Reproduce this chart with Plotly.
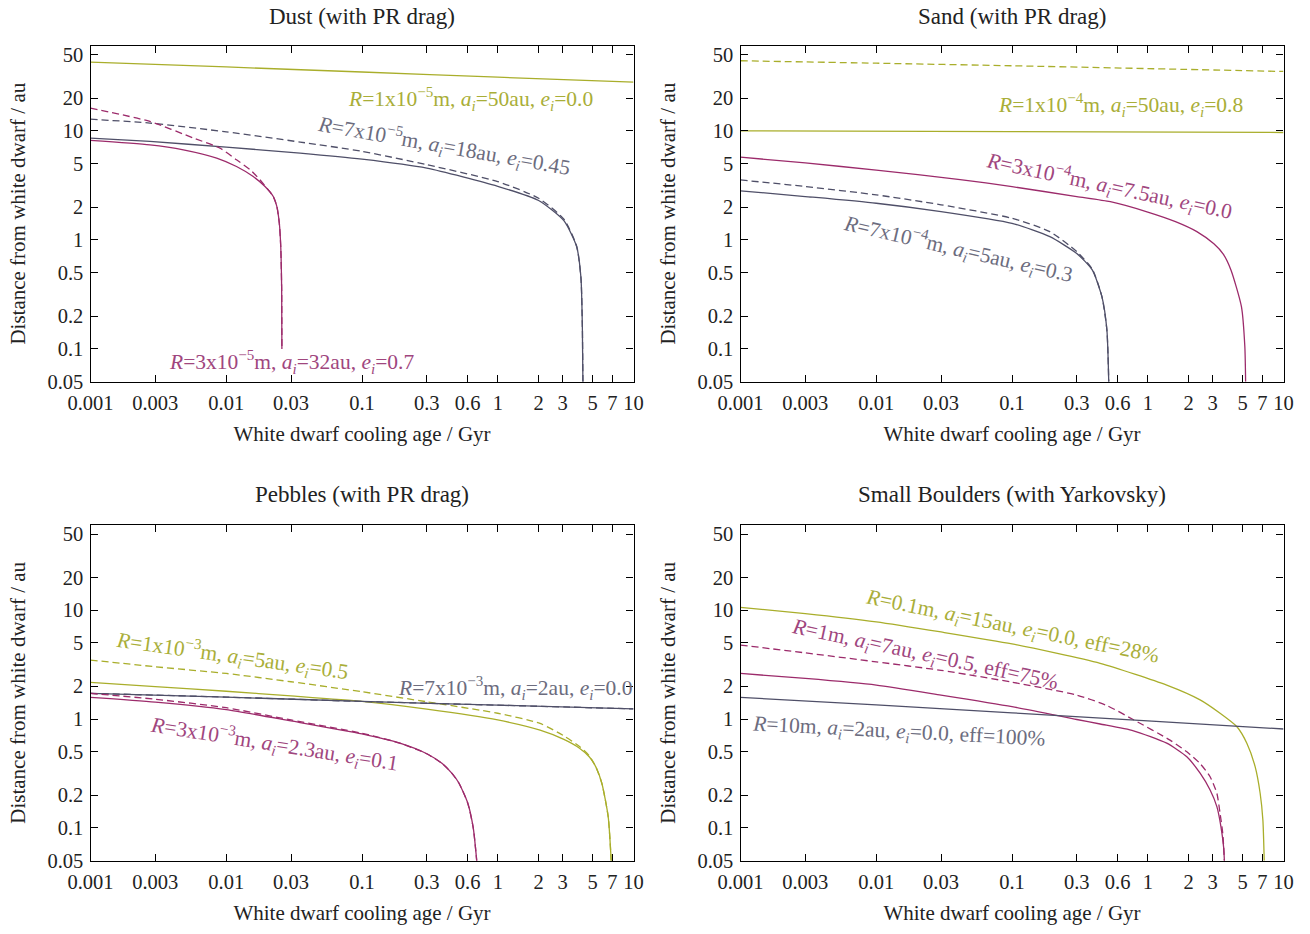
import math
import plotly.graph_objects as go

W, H = 1310, 934
FONT = "Liberation Serif"

# colours
YEL = "#a9ae2b"
MAG = "#9c2b6b"
GRY = "#4f4f68"
YEL_T = "#a9ae38"
MAG_T = "#a0467e"
GRY_T = "#6c6c7e"

# ---------------- data (cooling age in Gyr, distance in au) ----------------
# Panel 1 : Dust (with PR drag)
p1_yel_solid_t = [0.001, 0.01, 0.1, 1, 10]
p1_yel_solid_a = [42.8, 38.6, 34.7, 31.1, 28.0]

p1_gry_solid_t = [0.001, 0.00274, 0.01, 0.035, 0.1, 0.3, 1, 2, 3.07, 3.81, 4.1, 4.2, 4.24]
p1_gry_solid_a = [8.6, 8.0, 7.1, 6.25, 5.5, 4.55, 3.1, 2.3, 1.5, 0.87, 0.45, 0.16, 0.05]
p1_gry_dash_t = [0.001, 0.00274, 0.01, 0.035, 0.1, 0.3, 1, 2, 3.07, 3.81, 4.1, 4.2, 4.24]
p1_gry_dash_a = [12.8, 11.8, 9.8, 7.9, 6.5, 4.9, 3.43, 2.41, 1.55, 0.88, 0.45, 0.16, 0.05]

p1_mag_solid_t = [0.001, 0.00274, 0.00483, 0.0085, 0.0119, 0.0158, 0.0193, 0.0222, 0.0236, 0.0246, 0.0252, 0.0256, 0.0257]
p1_mag_solid_a = [8.2, 7.46, 6.71, 5.63, 4.71, 3.81, 3.09, 2.5, 2.02, 1.42, 0.87, 0.35, 0.1]
p1_mag_dash_t = [0.001, 0.00274, 0.00573, 0.009, 0.0119, 0.015, 0.0177, 0.0204, 0.0222, 0.0236, 0.0246, 0.0252, 0.0256, 0.0257]
p1_mag_dash_a = [16.2, 12.2, 8.6, 6.95, 5.43, 4.4, 3.56, 2.88, 2.5, 2.02, 1.42, 0.87, 0.35, 0.1]

# Panel 2 : Sand (with PR drag)
p2_yel_dash_t = [0.001, 0.01, 0.1, 1, 10]
p2_yel_dash_a = [44.0, 41.8, 39.6, 37.3, 35.1]
p2_yel_solid_t = [0.001, 0.1, 10]
p2_yel_solid_a = [10.0, 9.85, 9.67]

p2_mag_solid_t = [0.001, 0.003, 0.01, 0.0415, 0.1, 0.3, 0.53, 1, 1.6, 2.3, 3.07, 3.6, 4.1, 4.9, 5.19, 5.26]
p2_mag_solid_a = [5.74, 5.08, 4.37, 3.58, 3.08, 2.5, 2.24, 1.8, 1.47, 1.19, 0.92, 0.74, 0.53, 0.244, 0.105, 0.05]

p2_gry_solid_t = [0.001, 0.003, 0.01, 0.03, 0.1, 0.19, 0.3, 0.39, 0.46, 0.5, 0.516]
p2_gry_solid_a = [2.82, 2.5, 2.17, 1.82, 1.42, 1.07, 0.75, 0.53, 0.30, 0.149, 0.05]
p2_gry_dash_t = [0.001, 0.003, 0.01, 0.03, 0.1, 0.19, 0.3, 0.39, 0.46, 0.5, 0.516]
p2_gry_dash_a = [3.55, 3.09, 2.59, 2.1, 1.58, 1.19, 0.78, 0.54, 0.30, 0.149, 0.05]

# Panel 3 : Pebbles (with PR drag)
p3_yel_solid_t = [0.001, 0.003, 0.01, 0.03, 0.1, 0.3, 1, 2.05, 3.07, 4.0, 4.72, 5.3, 5.85, 6.51, 6.85]
p3_yel_solid_a = [2.17, 1.98, 1.8, 1.63, 1.45, 1.23, 0.98, 0.79, 0.65, 0.54, 0.45, 0.36, 0.256, 0.127, 0.05]
p3_yel_dash_t = [0.001, 0.003, 0.01, 0.03, 0.1, 0.3, 1, 2.05, 3.07, 4.0, 4.72, 5.3, 5.85, 6.51, 6.85]
p3_yel_dash_a = [3.48, 3.02, 2.62, 2.2, 1.78, 1.44, 1.13, 0.91, 0.7, 0.56, 0.46, 0.36, 0.256, 0.127, 0.05]

p3_gry_solid_t = [0.001, 0.01, 0.1, 1, 10]
p3_gry_solid_a = [1.72, 1.59, 1.45, 1.34, 1.24]
p3_gry_dash_t = [0.001, 0.01, 0.1, 1, 10]
p3_gry_dash_a = [1.72, 1.59, 1.45, 1.34, 1.24]

p3_mag_solid_t = [0.001, 0.003, 0.01, 0.03, 0.1, 0.19, 0.3, 0.39, 0.46, 0.516, 0.6, 0.66, 0.70]
p3_mag_solid_a = [1.58, 1.43, 1.22, 0.96, 0.73, 0.6, 0.48, 0.39, 0.317, 0.26, 0.17, 0.1, 0.05]
p3_mag_dash_t = [0.001, 0.003, 0.01, 0.03, 0.1, 0.19, 0.3, 0.39, 0.46, 0.516, 0.6, 0.66, 0.70]
p3_mag_dash_a = [1.72, 1.52, 1.27, 0.98, 0.74, 0.6, 0.48, 0.39, 0.317, 0.26, 0.17, 0.1, 0.05]

# Panel 4 : Small Boulders (with Yarkovsky)
p4_yel_solid_t = [0.001, 0.003, 0.01, 0.03, 0.1, 0.446, 1.38, 2.43, 3.41, 4.54, 5.37, 6.18, 6.73, 7.05, 7.21]
p4_yel_solid_a = [10.6, 9.3, 7.8, 6.3, 4.9, 3.25, 2.05, 1.5, 1.13, 0.85, 0.6, 0.365, 0.208, 0.118, 0.05]

p4_mag_dash_t = [0.001, 0.003, 0.01, 0.03, 0.1, 0.3, 0.5, 0.78, 1.46, 1.94, 2.43, 2.88, 3.23, 3.41, 3.57, 3.67]
p4_mag_dash_a = [4.78, 4.05, 3.35, 2.8, 2.18, 1.66, 1.33, 0.99, 0.64, 0.50, 0.39, 0.295, 0.208, 0.136, 0.089, 0.05]
p4_mag_solid_t = [0.001, 0.003, 0.01, 0.03, 0.1, 0.3, 0.446, 0.785, 1.38, 1.94, 2.43, 2.88, 3.23, 3.46, 3.62, 3.67]
p4_mag_solid_a = [2.62, 2.36, 2.05, 1.66, 1.30, 0.99, 0.90, 0.78, 0.60, 0.45, 0.318, 0.223, 0.157, 0.103, 0.067, 0.05]

p4_gry_solid_t = [0.001, 0.01, 0.1, 1, 10]
p4_gry_solid_a = [1.58, 1.35, 1.14, 0.96, 0.81]

# axis ticks
x_tickvals = [0.001, 0.003, 0.01, 0.03, 0.1, 0.3, 0.6, 1, 2, 3, 5, 7, 10]
x_ticktext = ["0.001", "0.003", "0.01", "0.03", "0.1", "0.3", "0.6", "1", "2", "3", "5", "7", "10"]
y_tickvals = [0.05, 0.1, 0.2, 0.5, 1, 2, 5, 10, 20, 50]
y_ticktext = ["0.05", "0.1", "0.2", "0.5", "1", "2", "5", "10", "20", "50"]

panel_titles = ["Dust (with PR drag)", "Sand (with PR drag)",
                "Pebbles (with PR drag)", "Small Boulders (with Yarkovsky)"]
x_title = "White dwarf cooling age / Gyr"
y_title = "Distance from white dwarf / au"

# ---------------- figure ----------------
fig = go.Figure()

def add(panel, t, a, color, dash):
    sfx = "" if panel == 1 else str(panel)
    fig.add_trace(go.Scatter(
        x=t, y=a, mode="lines", xaxis="x" + sfx, yaxis="y" + sfx,
        line=dict(color=color, width=1.3, dash="7px,4px" if dash else "solid",
                  shape="spline", smoothing=0.6),
        showlegend=False, hoverinfo="skip"))

add(1, p1_yel_solid_t, p1_yel_solid_a, YEL, False)
add(1, p1_gry_dash_t, p1_gry_dash_a, GRY, True)
add(1, p1_gry_solid_t, p1_gry_solid_a, GRY, False)
add(1, p1_mag_dash_t, p1_mag_dash_a, MAG, True)
add(1, p1_mag_solid_t, p1_mag_solid_a, MAG, False)

add(2, p2_yel_dash_t, p2_yel_dash_a, YEL, True)
add(2, p2_yel_solid_t, p2_yel_solid_a, YEL, False)
add(2, p2_mag_solid_t, p2_mag_solid_a, MAG, False)
add(2, p2_gry_dash_t, p2_gry_dash_a, GRY, True)
add(2, p2_gry_solid_t, p2_gry_solid_a, GRY, False)

add(3, p3_yel_dash_t, p3_yel_dash_a, YEL, True)
add(3, p3_yel_solid_t, p3_yel_solid_a, YEL, False)
add(3, p3_gry_solid_t, p3_gry_solid_a, GRY, False)
add(3, p3_gry_dash_t, p3_gry_dash_a, GRY, True)
add(3, p3_mag_dash_t, p3_mag_dash_a, MAG, True)
add(3, p3_mag_solid_t, p3_mag_solid_a, MAG, False)

add(4, p4_yel_solid_t, p4_yel_solid_a, YEL, False)
add(4, p4_mag_dash_t, p4_mag_dash_a, MAG, True)
add(4, p4_mag_solid_t, p4_mag_solid_a, MAG, False)
add(4, p4_gry_solid_t, p4_gry_solid_a, GRY, False)

# panel geometry in window pixels: (left, right, top, bottom)
boxes = [(90.5, 633.5, 45.7, 381.7), (740.5, 1283.5, 45.7, 381.7),
         (90.5, 633.5, 525.0, 860.7), (740.5, 1283.5, 525.0, 860.7)]

def px(x):
    return x / W

def py(y):
    return 1 - y / H

layout = dict(width=W, height=H, margin=dict(l=0, r=0, t=0, b=0, autoexpand=False),
              paper_bgcolor="white", plot_bgcolor="white",
              font=dict(family=FONT, size=21, color="#222222"))

for i, (l, r, t, b) in enumerate(boxes):
    sfx = "" if i == 0 else str(i + 1)
    layout["xaxis" + sfx] = dict(
        type="log", range=[-3, 1], domain=[px(l), px(r)], automargin=False,
        anchor="y" + sfx, tickvals=x_tickvals, ticktext=x_ticktext,
        ticks="inside", ticklen=7, tickwidth=1, tickcolor="black",
        showline=True, linecolor="black", linewidth=1.2, mirror="allticks",
        showgrid=False, zeroline=False, ticklabelstandoff=3,
        tickfont=dict(family=FONT, size=20.5, color="#222222"),
        title=dict(text=x_title, font=dict(family=FONT, size=21, color="#222222"), standoff=12))
    layout["yaxis" + sfx] = dict(
        type="log", range=[math.log10(0.05), math.log10(60.5)],
        domain=[py(b), py(t)], automargin=False,
        anchor="x" + sfx, tickvals=y_tickvals, ticktext=y_ticktext,
        ticks="inside", ticklen=7, tickwidth=1, tickcolor="black",
        showline=True, linecolor="black", linewidth=1.2, mirror="allticks",
        showgrid=False, zeroline=False, ticklabelstandoff=2,
        tickfont=dict(family=FONT, size=20.5, color="#222222"),
        title=dict(text=y_title, font=dict(family=FONT, size=21, color="#222222"), standoff=16))

fig.update_layout(**layout)

title_pos = [(362, 16), (1012, 16), (362, 494), (1012, 494)]
for txt, (x, y) in zip(panel_titles, title_pos):
    fig.add_annotation(text=txt, x=px(x), y=py(y), xref="paper", yref="paper",
                       showarrow=False, xanchor="center", yanchor="middle",
                       font=dict(family=FONT, size=23, color="#222222"))

def lab(text, x, y, color, angle):
    fig.add_annotation(text=text, x=px(x), y=py(y), xref="paper", yref="paper",
                       showarrow=False, xanchor="center", yanchor="middle", textangle=angle,
                       font=dict(family=FONT, size=21.5, color=color))

lab("<i>R</i>=1x10<sup>−5</sup>m, <i>a<sub>i</sub></i>=50au, <i>e<sub>i</sub></i>=0.0", 470, 99, YEL_T, 0)
lab("<i>R</i>=7x10<sup>−5</sup>m, <i>a<sub>i</sub></i>=18au, <i>e<sub>i</sub></i>=0.45", 444, 146, GRY_T, 10)
lab("<i>R</i>=3x10<sup>−5</sup>m, <i>a<sub>i</sub></i>=32au, <i>e<sub>i</sub></i>=0.7", 291, 362, MAG_T, 0)

lab("<i>R</i>=1x10<sup>−4</sup>m, <i>a<sub>i</sub></i>=50au, <i>e<sub>i</sub></i>=0.8", 1120, 105, YEL_T, 0)
lab("<i>R</i>=3x10<sup>−4</sup>m, <i>a<sub>i</sub></i>=7.5au, <i>e<sub>i</sub></i>=0.0", 1109, 186, MAG_T, 12)
lab("<i>R</i>=7x10<sup>−4</sup>m, <i>a<sub>i</sub></i>=5au, <i>e<sub>i</sub></i>=0.3", 958, 249, GRY_T, 13)

lab("<i>R</i>=1x10<sup>−3</sup>m, <i>a<sub>i</sub></i>=5au, <i>e<sub>i</sub></i>=0.5", 232, 656, YEL_T, 8)
lab("<i>R</i>=7x10<sup>−3</sup>m, <i>a<sub>i</sub></i>=2au, <i>e<sub>i</sub></i>=0.0", 515, 688, GRY_T, 0)
lab("<i>R</i>=3x10<sup>−3</sup>m, <i>a<sub>i</sub></i>=2.3au, <i>e<sub>i</sub></i>=0.1", 274, 744, MAG_T, 9)

lab("<i>R</i>=0.1m, <i>a<sub>i</sub></i>=15au, <i>e<sub>i</sub></i>=0.0, eff=28%", 1012, 627, YEL_T, 11.5)
lab("<i>R</i>=1m, <i>a<sub>i</sub></i>=7au, <i>e<sub>i</sub></i>=0.5, eff=75%", 925, 655, MAG_T, 12)
lab("<i>R</i>=10m, <i>a<sub>i</sub></i>=2au, <i>e<sub>i</sub></i>=0.0, eff=100%", 898, 732, GRY_T, 3)

# the page's default 8px body margin is removed so the figure fills the window exactly
fig.write_html("out.html", config={"displayModeBar": False},
               post_script="document.body.style.margin='0px';")
